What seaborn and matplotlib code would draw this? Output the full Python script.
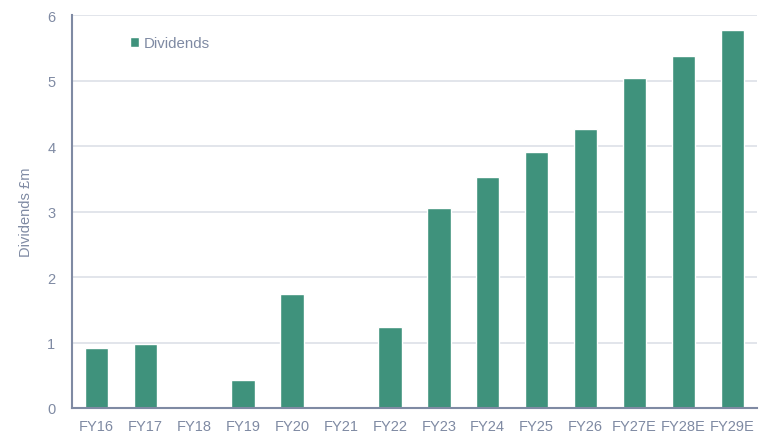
import seaborn as sns
import pandas as pd
import matplotlib.pyplot as plt

years = ["FY16", "FY17", "FY18", "FY19", "FY20", "FY21", "FY22", "FY23",
         "FY24", "FY25", "FY26", "FY27E", "FY28E", "FY29E"]
dividends = [0.91, 0.97, 0.0, 0.42, 1.74, 0.0, 1.24, 3.05,
             3.53, 3.91, 4.26, 5.04, 5.37, 5.78]

bar_color = "#3f927c"
text_color = "#7f8aa3"
grid_color = "#dde0e8"

sns.set_style("white")
plt.rcParams['font.family'] = ['Liberation Sans', 'DejaVu Sans']

df = pd.DataFrame({'year': years, 'Dividends': dividends})

fig = plt.figure(figsize=(7.69, 4.35), dpi=100)
ax = fig.add_axes([0.0936, 0.0598, 0.8904, 0.9032])

sns.barplot(data=df, x='year', y='Dividends', color=bar_color, width=0.48,
            ax=ax, label='Dividends', saturation=1)

ax.set_ylim(0, 6)
ax.set_xlim(-0.5, len(years) - 0.5)
ax.set_yticks(range(0, 7))
ax.yaxis.grid(True, color=grid_color, linewidth=1.2)
ax.set_axisbelow(True)

for s in ['top', 'right']:
    ax.spines[s].set_visible(False)
for s in ['left', 'bottom']:
    ax.spines[s].set_color(text_color)
    ax.spines[s].set_linewidth(1.5)

ax.tick_params(axis='both', colors=text_color, labelsize=10.5, length=0)
ax.tick_params(axis='x', pad=8)
ax.tick_params(axis='y', pad=12)
ax.set_xlabel('')
ax.set_ylabel('Dividends £m', color=text_color, fontsize=10.5, labelpad=10)

leg = ax.legend(loc='upper left', bbox_to_anchor=(0.065, 0.98), frameon=False,
                fontsize=10.8, handlelength=0.6, handleheight=0.6,
                handletextpad=0.3, labelcolor=text_color)

plt.savefig('out.png', dpi=100)
